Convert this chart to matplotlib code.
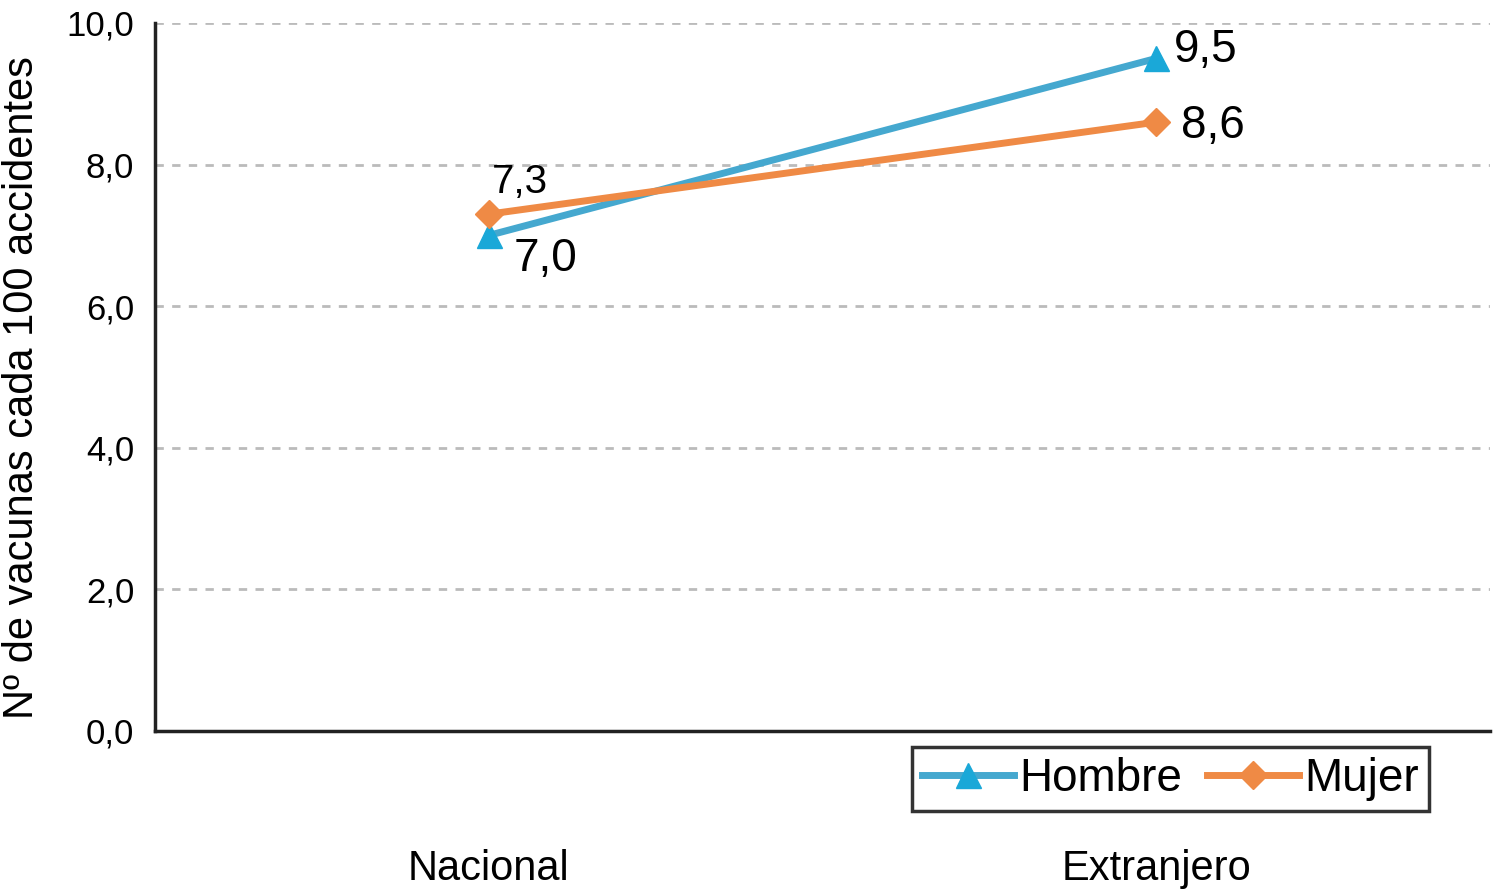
import matplotlib
matplotlib.use("Agg")
import matplotlib.pyplot as plt

categories = ["Nacional", "Extranjero"]
hombre = [7.0, 9.5]
mujer = [7.3, 8.6]
yticks = [0, 2, 4, 6, 8, 10]
ytick_labels = ["0,0", "2,0", "4,0", "6,0", "8,0", "10,0"]
hombre_labels = ["7,0", "9,5"]
mujer_labels = ["7,3", "8,6"]

plt.rcParams['font.family'] = ['Liberation Sans', 'DejaVu Sans']

fig = plt.figure(figsize=(14.93, 8.9), dpi=100)
ax = fig.add_axes([155/1493, 1-731/890, (1490-155)/1493, (731-23)/890])

blue = "#45a8cf"
blue_m = "#1aa8d8"
orange = "#ef8a45"
x = list(range(len(categories)))
ax.plot(x, hombre, color=blue, lw=5, marker="^", ms=18, mfc=blue_m, mec=blue_m, label="Hombre", zorder=3)
ax.plot(x, mujer, color=orange, lw=5, marker="D", ms=14, mfc=orange, mec=orange, label="Mujer", zorder=3)

ax.set_xlim(-0.5, 1.5)
ax.set_ylim(0, 10)
ax.set_yticks(yticks)
ax.set_yticklabels(ytick_labels, fontsize=25)
ax.set_xticks(x)
ax.set_xticklabels(categories, fontsize=30)
ax.tick_params(axis='x', length=0, pad=85)
ax.tick_params(axis='y', length=0, pad=15)
ax.yaxis.grid(True, color="#bbbbbb", ls=(0, (3, 3)), lw=2)
ax.set_axisbelow(True)
for s in ["top", "right"]:
    ax.spines[s].set_visible(False)
for s in ["left", "bottom"]:
    ax.spines[s].set_color("#222222")
    ax.spines[s].set_linewidth(2.5)

ax.set_ylabel("Nº de vacunas cada 100 accidentes", fontsize=30)
ax.yaxis.set_label_coords(-0.085, 0.485)

# data labels
ax.annotate(hombre_labels[0], (x[0], hombre[0]), xytext=(18, -17), textcoords="offset points", fontsize=33, va="center", ha="left")
ax.annotate(hombre_labels[1], (x[1], hombre[1]), xytext=(13, 6), textcoords="offset points", fontsize=33, va="center", ha="left")
ax.annotate(mujer_labels[0], (x[0], mujer[0]), xytext=(2, 23), textcoords="offset points", fontsize=29, va="center", ha="left")
ax.annotate(mujer_labels[1], (x[1], mujer[1]), xytext=(18, -3), textcoords="offset points", fontsize=33, va="center", ha="left")

leg = ax.legend(loc="upper left", bbox_to_anchor=(912/1493, 1-747/890), bbox_transform=fig.transFigure,
                ncol=2, fontsize=33, frameon=True, fancybox=False, edgecolor="black",
                handlelength=2.0, columnspacing=0.55, handletextpad=0.12, borderpad=0.22,
                borderaxespad=0)
leg.get_frame().set_linewidth(2.5)

fig.savefig("out.png", dpi=100)
